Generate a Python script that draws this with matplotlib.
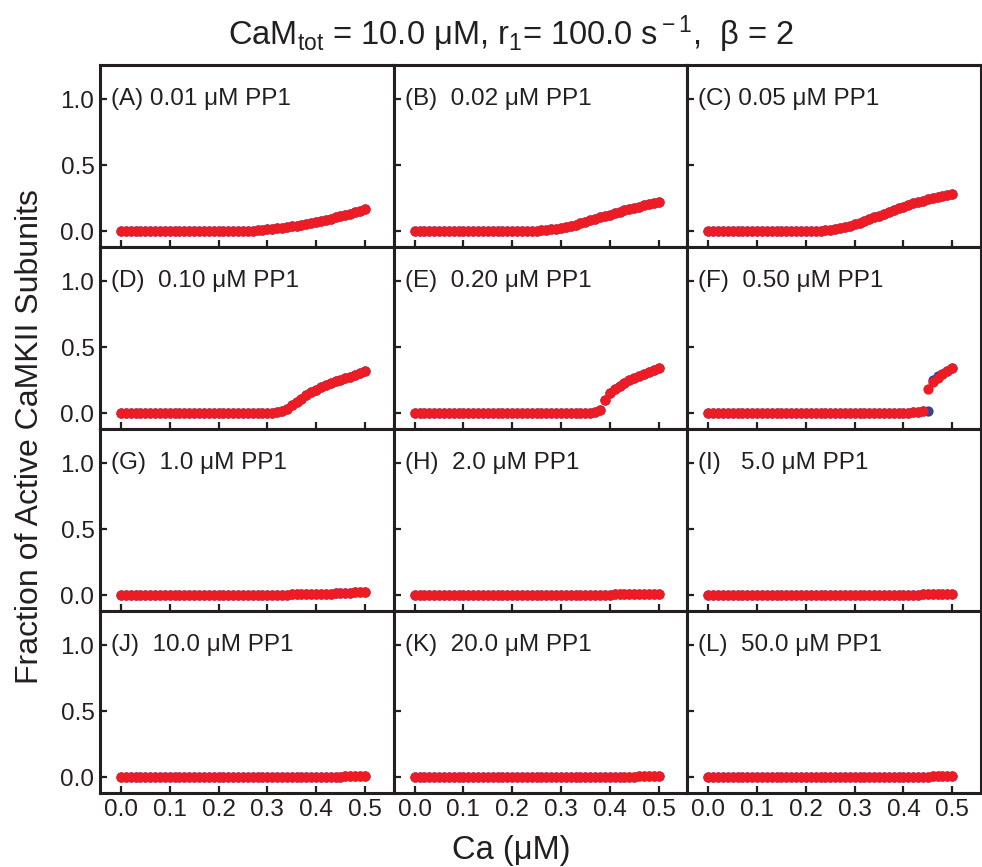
import numpy as np
import matplotlib
matplotlib.use("Agg")
import matplotlib.pyplot as plt

plt.rcParams['font.family'] = ['Liberation Sans', 'DejaVu Sans']
plt.rcParams['mathtext.fontset'] = 'custom'
plt.rcParams['mathtext.rm'] = 'Liberation Sans'
plt.rcParams['mathtext.it'] = 'Liberation Sans'

# Ca concentration grid (uM)
ca = np.linspace(0.0, 0.5, 51)

# fraction of active CaMKII subunits, one list per PP1 level
frac_A = [0.0] * 25 + [0.002, 0.003, 0.005, 0.007, 0.010, 0.013, 0.017, 0.021, 0.026, 0.031,
                       0.037, 0.043, 0.050, 0.057, 0.064, 0.072, 0.080, 0.088, 0.096, 0.104,
                       0.113, 0.122, 0.132, 0.142, 0.152, 0.167]
frac_B = [0.0] * 23 + [0.002, 0.003, 0.005, 0.008, 0.011, 0.015, 0.020, 0.026, 0.033, 0.041,
                       0.050, 0.060, 0.071, 0.082, 0.093, 0.104, 0.115, 0.126, 0.137, 0.147,
                       0.157, 0.167, 0.177, 0.187, 0.196, 0.205, 0.214, 0.225]
frac_C = [0.0] * 21 + [0.002, 0.003, 0.005, 0.008, 0.012, 0.017, 0.023, 0.031, 0.040, 0.051,
                       0.063, 0.076, 0.090, 0.104, 0.118, 0.132, 0.146, 0.160, 0.173, 0.186,
                       0.198, 0.210, 0.221, 0.232, 0.242, 0.251, 0.259, 0.267, 0.274, 0.280]
frac_D = [0.0] * 30 + [0.002, 0.004, 0.006, 0.015, 0.035, 0.060, 0.085, 0.110, 0.135, 0.158,
                       0.178, 0.196, 0.213, 0.228, 0.242, 0.255, 0.267, 0.278, 0.293, 0.305,
                       0.318]
frac_E = [0.0] * 35 + [0.003, 0.005, 0.010, 0.025, 0.100, 0.150, 0.180, 0.205, 0.228, 0.248,
                       0.266, 0.282, 0.298, 0.312, 0.325, 0.340]
frac_F = [0.0] * 39 + [0.002, 0.003, 0.004, 0.006, 0.009, 0.013, 0.185, 0.240, 0.270, 0.295,
                       0.320, 0.343]
frac_F_blue = [0.0] * 39 + [0.002, 0.003, 0.004, 0.006, 0.009, 0.013, 0.020, 0.250, 0.280, 0.300,
                            0.322, 0.343]
frac_G = [0.0] * 30 + [0.002, 0.002, 0.003, 0.003, 0.004, 0.005, 0.005, 0.006, 0.007, 0.008,
                       0.009, 0.010, 0.011, 0.012, 0.014, 0.015, 0.017, 0.019, 0.021, 0.023,
                       0.025]
frac_H = [0.0] * 35 + [0.002, 0.002, 0.003, 0.003, 0.004, 0.004, 0.005, 0.005, 0.006, 0.006,
                       0.007, 0.008, 0.008, 0.009, 0.010, 0.011]
frac_I = [0.0] * 38 + [0.002, 0.002, 0.003, 0.003, 0.004, 0.004, 0.005, 0.005, 0.006, 0.006,
                       0.007, 0.008, 0.008]
frac_J = [0.0] * 40 + [0.002, 0.002, 0.003, 0.003, 0.004, 0.004, 0.005, 0.005, 0.006, 0.006,
                       0.007]
frac_K = [0.0] * 40 + [0.002, 0.002, 0.003, 0.003, 0.004, 0.004, 0.005, 0.005, 0.006, 0.006,
                       0.007]
frac_L = [0.0] * 40 + [0.002, 0.002, 0.003, 0.003, 0.004, 0.004, 0.005, 0.005, 0.006, 0.006,
                       0.007]

panel_labels = ["(A) 0.01 \u03bcM PP1", "(B)  0.02 \u03bcM PP1", "(C) 0.05 \u03bcM PP1",
                "(D)  0.10 \u03bcM PP1", "(E)  0.20 \u03bcM PP1", "(F)  0.50 \u03bcM PP1",
                "(G)  1.0 \u03bcM PP1", "(H)  2.0 \u03bcM PP1", "(I)   5.0 \u03bcM PP1",
                "(J)  10.0 \u03bcM PP1", "(K)  20.0 \u03bcM PP1", "(L)  50.0 \u03bcM PP1"]
red_series = [frac_A, frac_B, frac_C, frac_D, frac_E, frac_F,
              frac_G, frac_H, frac_I, frac_J, frac_K, frac_L]
blue_series = [frac_A, frac_B, frac_C, frac_D, frac_E, frac_F_blue,
               frac_G, frac_H, frac_I, frac_J, frac_K, frac_L]

RED = '#ED1C24'
BLUE = '#34449A'
INK = '#231F20'

fig, axes = plt.subplots(4, 3, sharex=True, sharey=True, figsize=(9.82, 8.67), dpi=100)
fig.subplots_adjust(left=0.1018, right=0.999, top=0.925, bottom=0.0854, wspace=0, hspace=0)

for i, ax in enumerate(axes.flat):
    ax.plot(ca, blue_series[i], 'o', color=BLUE, ms=7.4, mec='none', zorder=2)
    ax.plot(ca, red_series[i], 'o', color=RED, ms=7.4, mec='none', zorder=3)
    ax.text(0.037, 1.0, panel_labels[i], transform=ax.get_yaxis_transform(),
            fontsize=17.5, va='center', ha='left', color=INK)
    for sp in ax.spines.values():
        sp.set_linewidth(2.2)
        sp.set_color(INK)
    ax.tick_params(direction='in', length=5, width=1.6, color=INK,
                   labelsize=17.5, labelcolor=INK, pad=4)

ax0 = axes[0, 0]
ax0.set_xlim(-0.043, 0.559)
ax0.set_ylim(-0.12, 1.26)
ax0.set_xticks([0.0, 0.1, 0.2, 0.3, 0.4, 0.5])
ax0.set_yticks([0.0, 0.5, 1.0])
ax0.xaxis.set_major_formatter(matplotlib.ticker.FormatStrFormatter('%.1f'))
ax0.yaxis.set_major_formatter(matplotlib.ticker.FormatStrFormatter('%.1f'))

fig.text(0.52, 0.961, "CaM$_{\\rm tot}$ = 10.0 \u03bcM, r$_{1}$= 100.0 s$^{\\rm -1}$,  \u03b2 = 2",
         ha='center', va='center', fontsize=23.5, color=INK)
fig.text(0.521, 0.019, "Ca (\u03bcM)", ha='center', va='center', fontsize=23.5, color=INK)
fig.text(0.031, 0.497, "Fraction of Active CaMKII Subunits", ha='center', va='center',
         rotation=90, fontsize=23, color=INK)

fig.savefig("out.png", dpi=100)
